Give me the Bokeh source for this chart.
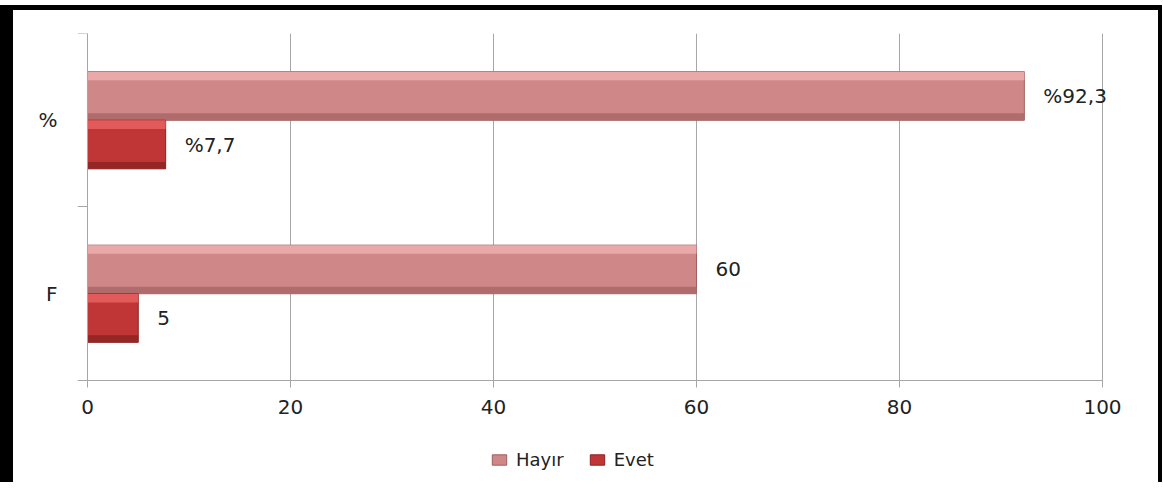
from bokeh.plotting import figure
from bokeh.models import (Range1d, LinearAxis, FixedTicker,
                          ColumnDataSource, LabelSet, Legend, LegendItem)
from bokeh.core.properties import value
from bokeh.transform import dodge
from bokeh.embed import file_html
from bokeh.resources import INLINE

# ---- data ----
categories = ["F", "%"]
hayir = [60, 92.3]
evet = [5, 7.7]
hayir_labels = ["60", "%92,3"]
evet_labels = ["5", "%7,7"]
x_ticks = [0, 20, 40, 60, 80, 100]
series_names = ["Hayır", "Evet"]

ypos = [i + 0.5 for i in range(len(categories))]
src = ColumnDataSource(dict(y=ypos, cat=categories, hayir=hayir, evet=evet,
                            hl=hayir_labels, el=evet_labels))

FONT = "DejaVu Sans"
GRID = "#a6a6a6"
X_MIN = -0.985   # room left of 0 for the "0" tick label
X_MAX = 104.04   # room right of 100 for the "%92,3" label
Y_MIN = -0.565   # room below the axis for the legend

p = figure(frame_width=1066, frame_height=445,
           y_range=Range1d(Y_MIN, len(categories)), x_range=Range1d(X_MIN, X_MAX),
           output_backend="svg", toolbar_location=None, y_axis_location=None,
           x_axis_location="below",
           min_border_left=64, min_border_right=15, min_border_top=23, min_border_bottom=4)
p.styles = {"margin-top": "5px", "border-top": "5px solid black",
            "border-left": "13px solid black", "border-right": "4px solid black"}
p.outline_line_color = None
p.background_fill_color = "white"
p.border_fill_color = "white"

# no automatic grids; vertical grid lines drawn at the x ticks over the category area
for g in p.grid:
    g.visible = False
n = len(x_ticks)
p.segment(x0=x_ticks, y0=[0] * n, x1=x_ticks, y1=[len(categories)] * n,
          line_color=GRID, line_width=1)

# x axis, pinned at y = 0
xa = p.xaxis[0]
xa.fixed_location = 0
xa.ticker = FixedTicker(ticks=x_ticks)
xa.bounds = (x_ticks[0], x_ticks[-1])
xa.axis_line_color = GRID
xa.major_tick_line_color = GRID
xa.major_tick_out = 7
xa.major_tick_in = 0
xa.minor_tick_line_color = None
xa.major_label_text_font = FONT
xa.major_label_text_font_size = "20px"
xa.major_label_text_color = "#222222"
xa.major_label_standoff = 13

# y axis line pinned at x = 0, with separator ticks at the category boundaries
y_line = LinearAxis(fixed_location=0,
                    ticker=FixedTicker(ticks=[], minor_ticks=list(range(len(categories) + 1))),
                    bounds=(0, len(categories)),
                    axis_line_color=GRID, major_tick_line_color=None,
                    minor_tick_line_color=GRID, minor_tick_out=10, minor_tick_in=0)
p.add_layout(y_line, "left")

# category labels at the category centres
y_lab = LinearAxis(ticker=FixedTicker(ticks=ypos),
                   major_label_overrides={y: c for y, c in zip(ypos, categories)},
                   axis_line_color=None, major_tick_line_color=None, minor_tick_line_color=None,
                   major_tick_out=0, major_tick_in=0, minor_tick_out=0, minor_tick_in=0,
                   major_label_text_font=FONT, major_label_text_font_size="20px",
                   major_label_text_color="#222222", major_label_standoff=20)
p.add_layout(y_lab, "left")

# bars
OFF = 0.14
H = 0.28
r_h = p.hbar(y=dodge("y", OFF), left=0, right="hayir", height=H,
             source=src, fill_color="#d08787", line_color="#9e6060", line_width=1)
p.hbar(y=dodge("y", OFF + H / 2 - 0.025), left=0, right="hayir", height=0.05,
       source=src, fill_color="#eaa9a9", line_color=None)
p.hbar(y=dodge("y", OFF - H / 2 + 0.02), left=0, right="hayir", height=0.04,
       source=src, fill_color="#b06c6c", line_color=None)

r_e = p.hbar(y=dodge("y", -OFF), left=0, right="evet", height=H,
             source=src, fill_color="#c03636", line_color="#8a2222", line_width=1)
p.hbar(y=dodge("y", -OFF + H / 2 - 0.025), left=0, right="evet", height=0.05,
       source=src, fill_color="#e25a5a", line_color=None)
p.hbar(y=dodge("y", -OFF - H / 2 + 0.02), left=0, right="evet", height=0.04,
       source=src, fill_color="#952626", line_color=None)

# value labels
for col, txt, off in [("hayir", "hl", OFF), ("evet", "el", -OFF)]:
    p.add_layout(LabelSet(x=col, y=dodge("y", off), text=txt, source=src,
                          x_offset=19, text_baseline="middle", text_align="left",
                          text_font=value(FONT), text_font_size="20px",
                          text_color="#222222"))

# legend at the bottom, below the axis labels
legend = Legend(items=[LegendItem(label=series_names[0], renderers=[r_h]),
                       LegendItem(label=series_names[1], renderers=[r_e])],
                orientation="horizontal", location=(413, 8),
                glyph_width=18, glyph_height=13, label_standoff=8, spacing=24,
                label_text_font=FONT, label_text_font_size="18px", label_text_color="#222222",
                border_line_color=None, background_fill_alpha=0, margin=0, padding=4)
p.add_layout(legend, "center")

open("out.html", "w").write(file_html(p, INLINE))
